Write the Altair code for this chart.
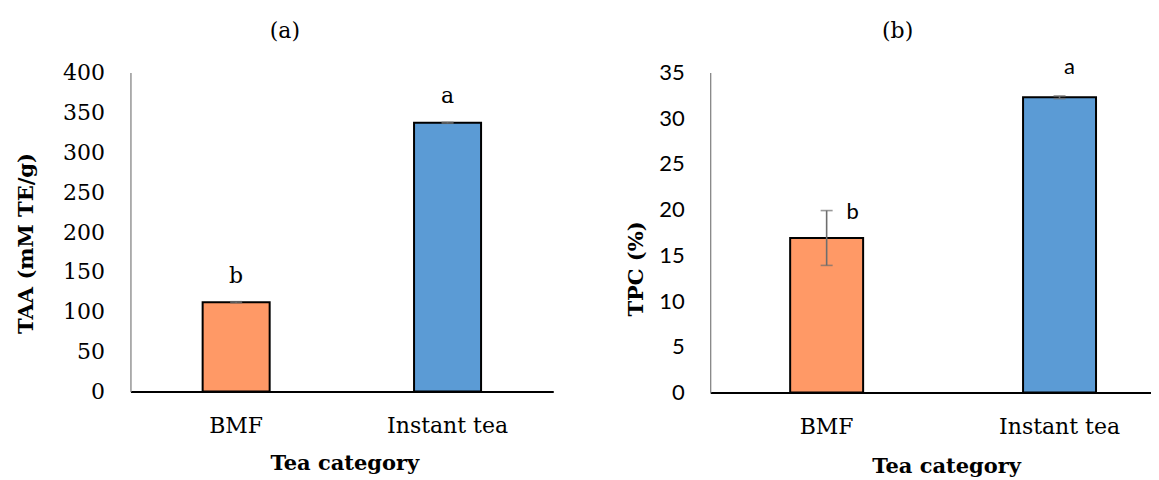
import altair as alt
import pandas as pd

categories = ["BMF", "Instant tea"]
taa_values = [112, 337]
taa_errors = [0.6, 0.6]
taa_letters = ["b", "a"]
tpc_values = [16.9, 32.3]
tpc_errors = [3.0, 0.15]
tpc_letters = ["b", "a"]
bar_colors = ["#FF9966", "#5B9BD5"]

SERIF = "DejaVu Serif"
SANS = "Lato"
ERR_COLOR = "#6e6e6e"


def make_df(values, errors, letters):
    df = pd.DataFrame({"cat": categories, "value": values, "err": errors, "letter": letters})
    df["lo"] = df["value"] - df["err"]
    df["hi"] = df["value"] + df["err"]
    return df


def panel(df, ymax, ystep, ytitle, tick_font, letter_font, width, height,
          pad_inner, pad_outer, align, ytitle_x, ytitle_y, xtitle_x, xtitle_y,
          title, title_dx, title_offset, letter_offsets):
    x_axis = alt.Axis(
        title="Tea category", labelAngle=0, labelFont=SERIF, labelFontSize=22,
        labelColor="black", labelBaseline="middle", labelPadding=34,
        ticks=False, tickSize=0, domainColor="black", domainWidth=2,
        titleFont=SERIF, titleFontSize=21, titleFontWeight="bold", titleColor="black",
        titleX=xtitle_x, titleY=xtitle_y, titleBaseline="middle", titleAlign="center",
    )
    x_scale = alt.Scale(paddingInner=pad_inner, paddingOuter=pad_outer, align=align)
    y_axis = alt.Axis(
        values=list(range(0, ymax + 1, ystep)), grid=False, ticks=False, tickSize=0,
        labelOverlap=False, labelFlush=False,
        labelPadding=26, labelFont=tick_font, labelFontSize=22, labelColor="black",
        domainColor="#868686", domainWidth=1.3,
        title=ytitle, titleFont=SERIF, titleFontSize=21, titleFontWeight="bold",
        titleColor="black", titleX=ytitle_x, titleY=ytitle_y,
        titleBaseline="middle", titleAlign="center", titleAngle=270,
    )
    y_scale = alt.Scale(domain=[0, ymax], nice=False, zero=True)

    def X():
        return alt.X("cat:N", sort=categories, scale=x_scale, axis=x_axis)

    def Y(field):
        return alt.Y(field, type="quantitative", scale=y_scale, axis=y_axis, title=ytitle)

    base = alt.Chart(df)
    bars = base.mark_bar(stroke="black", strokeWidth=2).encode(
        x=X(), y=Y("value"),
        color=alt.Color("cat:N", scale=alt.Scale(domain=categories, range=bar_colors), legend=None),
    )
    rule = base.mark_rule(color=ERR_COLOR, strokeWidth=1.6).encode(
        x=X(), y=Y("lo"), y2="hi:Q"
    )
    cap_lo = base.mark_tick(color=ERR_COLOR, size=12, thickness=1.6, orient="horizontal").encode(
        x=X(), y=Y("lo")
    )
    cap_hi = base.mark_tick(color=ERR_COLOR, size=12, thickness=1.6, orient="horizontal").encode(
        x=X(), y=Y("hi")
    )
    layers = [bars, rule, cap_lo, cap_hi]
    for cat, (dx, dy) in zip(categories, letter_offsets):
        layers.append(
            base.transform_filter(alt.datum.cat == cat)
            .mark_text(font=letter_font, fontSize=22, color="black", baseline="middle",
                       align="center", dx=dx, dy=dy)
            .encode(x=X(), y=Y("hi"), text="letter:N")
        )
    return alt.layer(*layers).properties(
        width=width, height=height,
        title=alt.TitleParams(title, font=SERIF, fontSize=22, fontWeight="normal",
                              color="black", anchor="middle", frame="group",
                              dx=title_dx, offset=title_offset, baseline="middle"),
    )


left = panel(make_df(taa_values, taa_errors, taa_letters), 400, 50, "TAA (mM TE/g)",
             SERIF, SERIF, 423, 319, 0.683, 0.3415, 0.5,
             -104, 170.5, 214, 72, "(a)", -57, 9, [(0, -26), (0, -26)])
right = panel(make_df(tpc_values, tpc_errors, tpc_letters), 35, 5, "TPC (%)",
              SANS, SANS, 441, 320, 0.6867, 0.2897, 0.5926,
              -74, 196, 236, 74, "(b)", -33, 3, [(26, 1), (10, -29)])

chart = alt.hconcat(left, right, spacing=157, bounds="flush").properties(
    padding={"left": 7.5, "top": 11.5, "right": 0, "bottom": 0}
).configure_view(stroke=None).configure_axis(labelOverlap=False)

chart.save("out.html", embed_options={"renderer": "svg", "actions": False})
